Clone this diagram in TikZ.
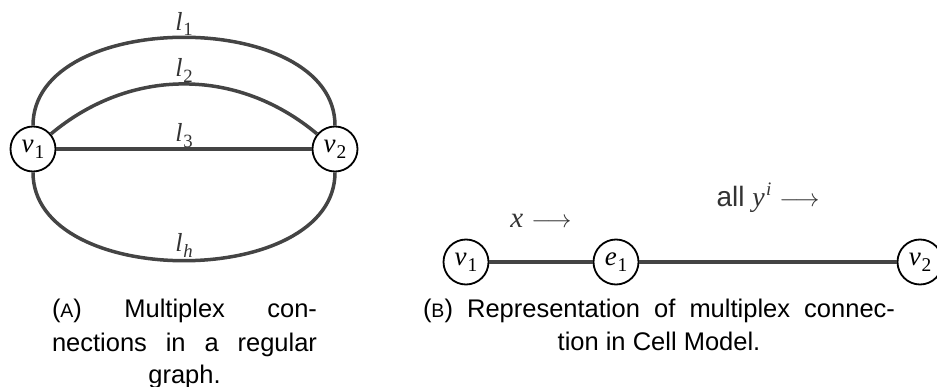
\documentclass[tikz,border=0pt]{standalone}
\usepackage{fontspec}
\setmainfont{Liberation Sans}
\newfontfamily\tms{Liberation Serif}
\definecolor{edgegray}{HTML}{444444}
\definecolor{labgray}{HTML}{333333}
% italic math-like letters in a Times-style face
\newcommand\mv[1]{{\tms\itshape #1}}
\newcommand\msub[2]{\mv{#1}\kern0.03em\raisebox{-0.22em}{\fontsize{0.72em}{1em}\selectfont\tms #2}}
\newcommand\msup[2]{\mv{#1}\kern0.05em\raisebox{0.42em}{\fontsize{0.68em}{1em}\selectfont\tms\itshape #2}}
\begin{document}
\begin{tikzpicture}[x=1pt,y=-1pt,
  vert/.style={circle,draw=black,line width=1.8pt,fill=white,minimum size=45pt,inner sep=0pt,
    font=\fontsize{27}{30}\selectfont},
  link/.style={draw=edgegray,line width=3.5pt},
  elab/.style={anchor=base,inner sep=0pt,text=labgray,font=\fontsize{26}{30}\selectfont},
  capline/.style={anchor=base,inner sep=0pt,font=\fontsize{25.5}{30}\selectfont}]
\useasboundingbox (0,0) rectangle (937,387);

% (a) regular graph with parallel links
\node[vert] (a1) at (33,149) {\msub{v}{1}};
\node[vert] (a2) at (335,149) {\msub{v}{2}};
\draw[link] (a1) to[out=90,in=90]
  node[elab,midway,yshift=7pt] (l1) {\msub{l}{1}} (a2);
\draw[link] (a1) to[out=40,in=140]
  node[elab,midway,yshift=7pt] (l2) {\msub{l}{2}} (a2);
\draw[link] (a1) --
  node[elab,midway,yshift=7pt] (l3) {\msub{l}{3}} (a2);
\draw[link] (a1) to[out=-90,in=-90]
  node[elab,midway,yshift=9pt] (lh) {\msub{l}{\itshape h}} (a2);

% (b) the same connection through a cell
\node[vert] (b1) at (466,262) {\msub{v}{1}};
\node[vert] (be) at (616,262) {\msub{e}{1}};
\node[vert] (b2) at (920,262) {\msub{v}{2}};
\draw[link,line width=3.2pt] (b1) --
  node[elab,midway,yshift=34pt,font=\fontsize{29}{30}\selectfont] (xl) {\mv{x}\ $\longrightarrow$} (be);
\draw[link,line width=3.2pt] (be) --
  node[elab,midway,yshift=55pt,font=\fontsize{28}{30}\selectfont] (yl) {all \msup{y}{i}\ $\longrightarrow$} (b2);

% captions
\node[capline] (ca1) at (184.5,318) {\makebox[265pt][s]{({\fontsize{19.5}{20}\selectfont A})\ Multiplex\ con-}};
\node[capline] (ca2) at (184.5,351) {\makebox[265pt][s]{nections\ in\ a\ regular}};
\node[capline] (ca3) at (184.5,383) {graph.};
\node[capline] (cb1) at (659,318) {\makebox[472pt][s]{({\fontsize{19.5}{20}\selectfont B})\ Representation\ of\ multiplex\ connec-}};
\node[capline] (cb2) at (659,350) {tion in Cell Model.};
\end{tikzpicture}
\end{document}
